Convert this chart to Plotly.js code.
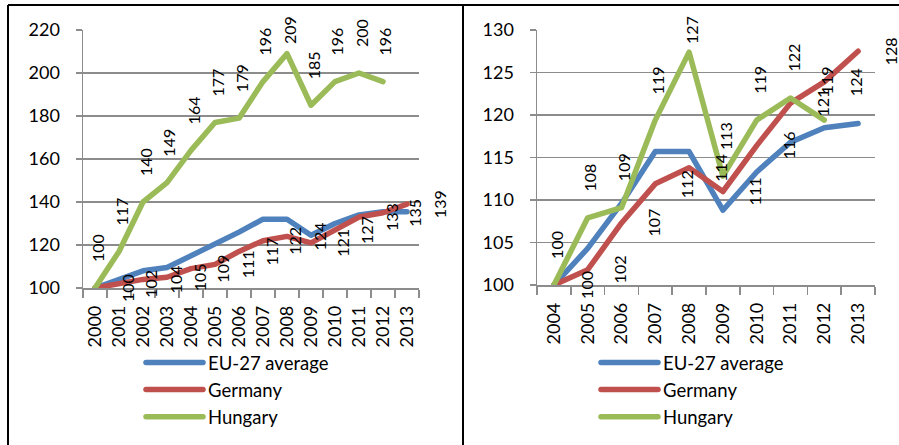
<!DOCTYPE html>
<html><head><meta charset="utf-8">
<script src="https://cdn.plot.ly/plotly-3.0.1.min.js"></script>
<style>html,body{margin:0;padding:0;background:#fff}#chart{width:899px;height:445px}
path.js-line{stroke-linejoin:round;stroke-linecap:round}</style>
</head><body><div id="chart"></div>
<script>
// ---- data: left panel (2000 = 100) ----
const yearsA = ['2000','2001','2002','2003','2004','2005','2006','2007','2008','2009','2010','2011','2012','2013'];
const euA = [100, 104, 108, 109.5, 115, 120, 126, 132, 132, 124.5, 130, 134, 135.5, 135.5];
const deA = [100, 102, 104, 105, 109, 111, 117, 122, 124, 121, 127, 133, 135, 139];
const huA = [100, 117, 140, 149, 164, 177, 179, 196, 209, 185, 196, 200, 196];
const yTicksA = [100, 120, 140, 160, 180, 200, 220];
// ---- data: right panel (2004 = 100) ----
const yearsB = ['2004','2005','2006','2007','2008','2009','2010','2011','2012','2013'];
const euB = [100, 104.3, 109.6, 115.7, 115.7, 108.8, 113.3, 116.8, 118.5, 119];
const deB = [100, 101.8, 107.3, 111.9, 113.8, 111, 116.4, 121.4, 123.9, 127.5];
const huB = [100, 107.9, 109.1, 119.4, 127.4, 112.8, 119.4, 122, 119.4];
const yTicksB = [100, 105, 110, 115, 120, 125, 130];
const names = ['EU-27 average', 'Germany', 'Hungary'];

const W = 899, H = 445;
const FONT = 'Lato, "Open Sans", sans-serif';
const colors = ['#4F81BD', '#C0504D', '#9BBB59'];
const grid = '#8c8c8c';
const boxA = {l: 83, r: 419, t: 30, b: 288};
const boxB = {l: 537, r: 875, t: 30, b: 285};

function mkTrace(x, y, i, xa, ya, leg) {
  return {x: x, y: y, type: 'scatter', mode: 'lines', name: names[i],
    xaxis: xa, yaxis: ya, legend: leg, legendgroup: leg + i,
    line: {color: colors[i], width: 5.5}, hoverinfo: 'skip'};
}

const traces = [
  mkTrace(yearsA, euA, 0, 'x', 'y', 'legend'),
  mkTrace(yearsA, deA, 1, 'x', 'y', 'legend'),
  mkTrace(yearsA, huA, 2, 'x', 'y', 'legend'),
  mkTrace(yearsB, euB, 0, 'x2', 'y2', 'legend2'),
  mkTrace(yearsB, deB, 1, 'x2', 'y2', 'legend2'),
  mkTrace(yearsB, huB, 2, 'x2', 'y2', 'legend2')
];

function labels(vals, xr, yr, box, ymin, ymax, mode) {
  const out = [];
  vals.forEach(function (v, i) {
    const py = box.b - (v - ymin) / (ymax - ymin) * (box.b - box.t);
    let xs, ys;
    if (mode === 'above') {
      const c = Math.max(py - 40, 30);
      ys = py - c; xs = 2;
    } else { ys = 0; xs = 32; }
    out.push({xref: xr, yref: yr, x: i, y: v, text: String(Math.round(v)),
      showarrow: false, textangle: -90, xshift: xs, yshift: ys,
      xanchor: 'center', yanchor: 'middle', font: {family: FONT, size: 16, color: '#000'}});
  });
  return out;
}

const annotations = [].concat(
  labels(huA, 'x', 'y', boxA, 100, 220, 'above'),
  labels(deA, 'x', 'y', boxA, 100, 220, 'right'),
  labels(huB, 'x2', 'y2', boxB, 100, 130, 'above'),
  labels(deB, 'x2', 'y2', boxB, 100, 130, 'right')
);

function xax(box, n) {
  return {type: 'category', domain: [box.l / W, box.r / W], range: [-0.5, n - 0.5],
    tickson: 'boundaries', ticks: 'outside', ticklen: 8, tickwidth: 1.5, tickcolor: grid,
    showline: true, linecolor: grid, linewidth: 1.5, showgrid: false, zeroline: false,
    tickangle: -90, tickfont: {family: FONT, size: 18, color: '#000'}, ticklabelstandoff: 9,
    fixedrange: true};
}
function yax(box, rng, tv, xa) {
  return {domain: [(H - box.b) / H, (H - box.t) / H], range: rng, tickvals: tv,
    ticks: 'outside', ticklen: 6, tickwidth: 1.5, tickcolor: grid,
    showline: true, linecolor: grid, linewidth: 1.5, showgrid: true, gridcolor: grid, gridwidth: 1.5,
    zeroline: false, anchor: xa, tickfont: {family: FONT, size: 18, color: '#000'},
    ticklabelstandoff: 12, fixedrange: true};
}

const legendBase = {xanchor: 'left', yanchor: 'top', font: {family: FONT, size: 18.5, color: '#000'},
  itemwidth: 57, tracegroupgap: 3, bgcolor: 'rgba(0,0,0,0)', traceorder: 'normal', borderwidth: 0};

const layout = {
  width: W, height: H, margin: {l: 0, r: 0, t: 0, b: 0},
  paper_bgcolor: '#fff', plot_bgcolor: '#fff', showlegend: true,
  font: {family: FONT, color: '#000'},
  xaxis: Object.assign(xax(boxA, yearsA.length), {anchor: 'y'}),
  yaxis: yax(boxA, [100, 220], yTicksA, 'x'),
  xaxis2: Object.assign(xax(boxB, yearsB.length), {anchor: 'y2'}),
  yaxis2: yax(boxB, [100, 130], yTicksB, 'x2'),
  legend: Object.assign({}, legendBase, {x: 141 / W, y: 1 - 344 / H}),
  legend2: Object.assign({}, legendBase, {x: 596 / W, y: 1 - 344 / H}),
  annotations: annotations,
  shapes: [
    {type: 'line', xref: 'paper', yref: 'paper', x0: 8 / W, x1: 1, y0: 1 - 5 / H, y1: 1 - 5 / H, line: {color: '#000', width: 2}},
    {type: 'line', xref: 'paper', yref: 'paper', x0: 8 / W, x1: 8 / W, y0: 0, y1: 1 - 5 / H, line: {color: '#000', width: 2}},
    {type: 'line', xref: 'paper', yref: 'paper', x0: 463 / W, x1: 463 / W, y0: 0, y1: 1 - 5 / H, line: {color: '#000', width: 2}}
  ]
};

Plotly.newPlot('chart', traces, layout, {staticPlot: true, displayModeBar: false});
</script>
</body></html>
